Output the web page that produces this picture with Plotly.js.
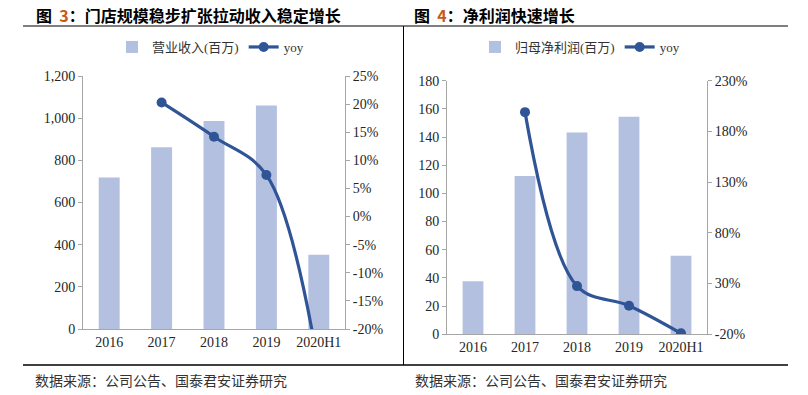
<!DOCTYPE html>
<html>
<head>
<meta charset="utf-8">
<script src="https://cdn.plot.ly/plotly-3.0.1.min.js"></script>
<style>
html,body{margin:0;padding:0;background:#fff;}
#chart{width:808px;height:395px;}
</style>
</head>
<body>
<div id="chart"></div>
<script>
// ---- data ----
const categories = ["2016", "2017", "2018", "2019", "2020H1"];
const revenue = [718, 862, 987, 1060, 352];            // 营业收入(百万)
const revenueYoy = [null, 20.3, 14.2, 7.4, -27];         // yoy (%)
const netProfit = [37.6, 112.4, 143.3, 154.5, 55.8];    // 归母净利润(百万)
const netProfitYoy = [null, 199, 27.5, 8.2, -19];       // yoy (%)
const revTickVals = [0, 200, 400, 600, 800, 1000, 1200];
const revTickText = ["0", "200", "400", "600", "800", "1,000", "1,200"];
const revYoyTickVals = [-20, -15, -10, -5, 0, 5, 10, 15, 20, 25];
const revYoyTickText = ["-20%", "-15%", "-10%", "-5%", "0%", "5%", "10%", "15%", "20%", "25%"];
const profitTickVals = [0, 20, 40, 60, 80, 100, 120, 140, 160, 180];
const profitYoyTickVals = [-20, 30, 80, 130, 180, 230];
const profitYoyTickText = ["-20%", "30%", "80%", "130%", "180%", "230%"];
const leftTitleNum = "3";
const leftTitleText = "：门店规模稳步扩张拉动收入稳定增长";
const rightTitleNum = "4";
const rightTitleText = "：净利润快速增长";
const sourceText = "数据来源：公司公告、国泰君安证券研究";
const revenueName = "营业收入(百万)";
const profitName = "归母净利润(百万)";
const yoyName = "yoy";

// ---- styles ----
const W = 808, H = 395;
const barColor = "#B4C0E0";
const lineColor = "#2F5597";
const serif = "'Liberation Serif', 'Times New Roman', 'Noto Sans CJK SC', serif";
const cjk = "'Noto Sans CJK SC', 'Liberation Serif', sans-serif";
const px = v => v / W, py = v => 1 - v / H;

const traces = [
  {type: "bar", x: categories, y: revenue, name: revenueName, marker: {color: barColor},
   width: 0.4, xaxis: "x", yaxis: "y", legend: "legend", hoverinfo: "skip"},
  {type: "scatter", mode: "lines+markers", x: categories, y: revenueYoy, name: yoyName,
   line: {color: lineColor, width: 3.2, shape: "spline"}, marker: {color: lineColor, size: 10},
   xaxis: "x", yaxis: "y2", legend: "legend", connectgaps: false, hoverinfo: "skip"},
  {type: "bar", x: categories, y: netProfit, name: profitName, marker: {color: barColor},
   width: 0.4, xaxis: "x2", yaxis: "y3", legend: "legend2", hoverinfo: "skip"},
  {type: "scatter", mode: "lines+markers", x: categories, y: netProfitYoy, name: yoyName,
   line: {color: lineColor, width: 3.2, shape: "spline"}, marker: {color: lineColor, size: 10},
   xaxis: "x2", yaxis: "y4", legend: "legend2", hoverinfo: "skip"}
];

const tickFont = {family: serif, size: 14, color: "#262626"};
const axisLine = "#A6A6A6";
const yCommon = {showline: true, linecolor: axisLine, ticks: "outside", ticklen: 4, tickcolor: axisLine,
                 tickfont: tickFont, showgrid: false, zeroline: false, tickmode: "array"};

const layout = {
  width: W, height: H,
  margin: {l: 0, r: 0, t: 0, b: 0},
  paper_bgcolor: "#fff", plot_bgcolor: "#fff",
  showlegend: true,
  xaxis: {domain: [px(83), px(345)], anchor: "y", type: "category", showline: true, linecolor: axisLine,
          ticks: "", tickfont: tickFont, showgrid: false},
  yaxis: Object.assign({}, yCommon, {domain: [py(329), py(76)], anchor: "x", range: [0, 1200],
          tickvals: revTickVals, ticktext: revTickText}),
  yaxis2: Object.assign({}, yCommon, {overlaying: "y", side: "right", anchor: "x", range: [-20, 25],
           tickvals: revYoyTickVals, ticktext: revYoyTickText}),
  xaxis2: {domain: [px(447), px(707)], anchor: "y3", type: "category", showline: true, linecolor: axisLine,
           ticks: "", tickfont: tickFont, showgrid: false},
  yaxis3: Object.assign({}, yCommon, {domain: [py(334.3), py(80.7)], anchor: "x2", range: [0, 180],
           tickvals: profitTickVals, ticktext: profitTickVals.map(String)}),
  yaxis4: Object.assign({}, yCommon, {overlaying: "y3", side: "right", anchor: "x2", range: [-20, 230],
           tickvals: profitYoyTickVals, ticktext: profitYoyTickText}),
  legend: {orientation: "h", x: px(112), xanchor: "left", y: py(47), yanchor: "middle",
           bgcolor: "rgba(0,0,0,0)", font: {family: serif, size: 13, color: "#333"}, traceorder: "normal"},
  legend2: {orientation: "h", x: px(475), xanchor: "left", y: py(47), yanchor: "middle",
            bgcolor: "rgba(0,0,0,0)", font: {family: serif, size: 13, color: "#333"}, traceorder: "normal"},
  annotations: [
    {xref: "paper", yref: "paper", x: px(34), y: py(15), xanchor: "left", yanchor: "middle", showarrow: false,
     text: "<b>图 \u00a0<span style='color:#C55A11'>" + leftTitleNum + "</span>" + leftTitleText + "</b>",
     font: {family: cjk, size: 16, color: "#000"}},
    {xref: "paper", yref: "paper", x: px(412), y: py(15), xanchor: "left", yanchor: "middle", showarrow: false,
     text: "<b>图 \u00a0<span style='color:#C55A11'>" + rightTitleNum + "</span>" + rightTitleText + "</b>",
     font: {family: cjk, size: 16, color: "#000"}},
    {xref: "paper", yref: "paper", x: px(33), y: py(380), xanchor: "left", yanchor: "middle", showarrow: false,
     text: sourceText, font: {family: cjk, size: 14, color: "#333"}},
    {xref: "paper", yref: "paper", x: px(413), y: py(380), xanchor: "left", yanchor: "middle", showarrow: false,
     text: sourceText, font: {family: cjk, size: 14, color: "#333"}}
  ],
  shapes: [
    {type: "line", xref: "paper", yref: "paper", x0: px(23), x1: px(788), y0: py(26), y1: py(26),
     line: {color: "#7F7F7F", width: 2}},
    {type: "line", xref: "paper", yref: "paper", x0: px(403.5), x1: px(403.5), y0: py(26), y1: py(365),
     line: {color: "#000", width: 1}},
    {type: "line", xref: "paper", yref: "paper", x0: px(23), x1: px(788), y0: py(365), y1: py(365),
     line: {color: "#000", width: 1.5}}
  ]
};

Plotly.newPlot("chart", traces, layout, {staticPlot: true, displayModeBar: false});
</script>
</body>
</html>
